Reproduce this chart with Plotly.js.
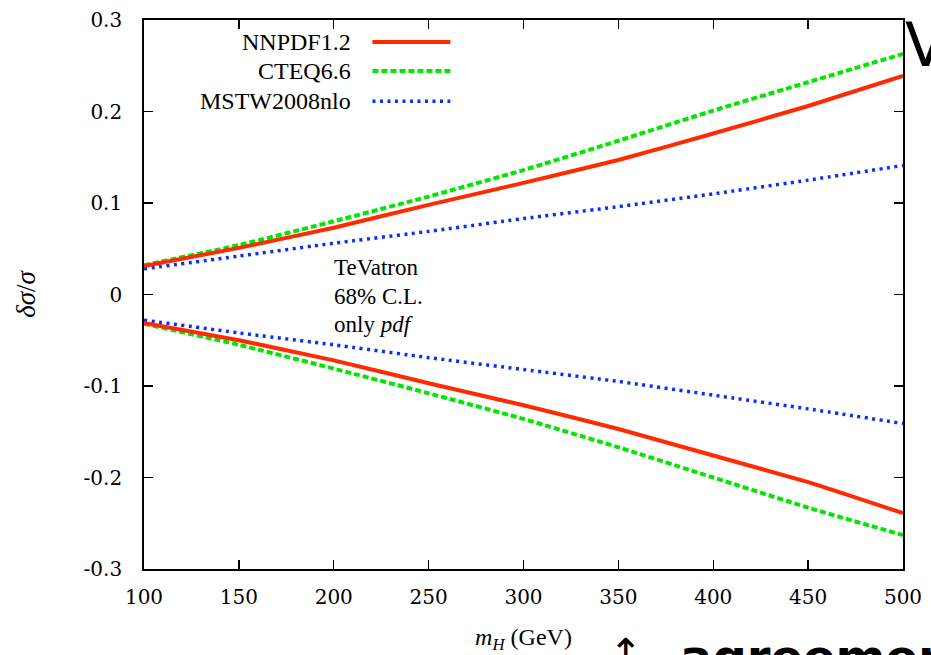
<!DOCTYPE html>
<html><head><meta charset="utf-8">
<script src="https://cdn.plot.ly/plotly-3.0.1.min.js"></script>
<style>html,body{margin:0;padding:0;background:#fff}</style>
</head><body><div id="chart" style="width:931px;height:655px"></div>
<script>
// Higgs mass (GeV)
const massH = [100, 150, 200, 250, 300, 350, 400, 450, 500];
// relative pdf uncertainty, upper and lower edges
const nnpdfUpper = [0.031, 0.051, 0.073, 0.098, 0.122, 0.147, 0.176, 0.206, 0.239];
const nnpdfLower = [-0.031, -0.050, -0.072, -0.097, -0.121, -0.147, -0.176, -0.205, -0.239];
const cteqUpper = [0.032, 0.054, 0.080, 0.107, 0.136, 0.168, 0.201, 0.232, 0.263];
const cteqLower = [-0.032, -0.055, -0.081, -0.108, -0.136, -0.167, -0.200, -0.233, -0.263];
const mstwUpper = [0.028, 0.042, 0.056, 0.069, 0.083, 0.096, 0.110, 0.125, 0.141];
const mstwLower = [-0.028, -0.042, -0.055, -0.069, -0.082, -0.095, -0.110, -0.125, -0.141];
const seriesNames = ['NNPDF1.2', 'CTEQ6.6', 'MSTW2008nlo'];
const xTickVals = [100, 150, 200, 250, 300, 350, 400, 450, 500];
const xTickText = ['100', '150', '200', '250', '300', '350', '400', '450', '500'];
const yTickVals = [-0.3, -0.2, -0.1, 0, 0.1, 0.2, 0.3];
const yTickText = ['-0.3', '-0.2', '-0.1', '0', '0.1', '0.2', '0.3'];

const SERIF = 'Liberation Serif';
const TICKSERIF = 'DejaVu Serif';
const styles = [
  {color: '#ff2a00', width: 4, dash: 'solid'},
  {color: '#00e600', width: 4, dash: '6px,3px'},
  {color: '#0a2dff', width: 3.5, dash: '3px,4.5px'}
];
const bands = [[nnpdfUpper, nnpdfLower], [cteqUpper, cteqLower], [mstwUpper, mstwLower]];
const data = [];
// draw blue, green, then red on top as in the reference
[2, 1, 0].forEach(i => {
  bands[i].forEach(vals => {
    data.push({x: massH, y: vals, type: 'scatter', mode: 'lines', name: seriesNames[i],
      line: {color: styles[i].color, width: styles[i].width, dash: styles[i].dash, shape: 'spline', smoothing: 0.4},
      showlegend: false, hoverinfo: 'skip'});
  });
});

const legendY = [0.960, 0.907, 0.852];
const annotations = [];
const shapes = [];
seriesNames.forEach((n, i) => {
  annotations.push({xref: 'paper', yref: 'paper', x: 0.2758, y: legendY[i], xanchor: 'right', yanchor: 'middle',
    text: n, showarrow: false, font: {family: SERIF, size: 24, color: '#000'}});
  shapes.push({type: 'line', xref: 'paper', yref: 'paper', x0: 0.301, x1: 0.4036, y0: legendY[i], y1: legendY[i],
    line: {color: styles[i].color, width: styles[i].width, dash: styles[i].dash}});
});
const noteLines = ['TeVatron', '68% C.L.', 'only <i>pdf</i>'];
const noteY = [0.550, 0.497, 0.445];
noteLines.forEach((t, i) => {
  annotations.push({xref: 'paper', yref: 'paper', x: 0.2475, y: noteY[i], xanchor: 'left', yanchor: 'middle',
    text: t, showarrow: false, font: {family: SERIF, size: 23, color: '#000'}});
});
// slide fragments cut at the image border
annotations.push({xref: 'paper', yref: 'paper', x: 1.0, y: 0.955, xanchor: 'left', yanchor: 'middle',
  text: 'V', showarrow: false, font: {family: 'DejaVu Sans', size: 60, color: '#000'}});
annotations.push({xref: 'paper', yref: 'paper', x: 0.635, y: -0.107, xanchor: 'center', yanchor: 'top',
  text: '↑', showarrow: false, font: {family: 'DejaVu Sans', size: 40, color: '#000'}});
annotations.push({xref: 'paper', yref: 'paper', x: 0.704, y: -0.106, xanchor: 'left', yanchor: 'top',
  text: '<b>agreement</b>', showarrow: false, font: {family: 'DejaVu Sans', size: 48, color: '#000'}});

const layout = {
  width: 931, height: 655,
  margin: {l: 144, r: 28, t: 20, b: 86},
  paper_bgcolor: '#fff', plot_bgcolor: '#fff',
  font: {family: SERIF, color: '#000'},
  showlegend: false,
  xaxis: {range: [100, 500], tickvals: xTickVals, ticktext: xTickText, ticks: 'inside', ticklen: 9,
    tickwidth: 1.3, tickcolor: '#000', mirror: 'ticks', showline: true, linecolor: '#000', linewidth: 1.8,
    showgrid: false, zeroline: false, ticklabelstandoff: 9,
    tickfont: {family: TICKSERIF, size: 20, color: '#000'},
    title: {text: '<i>m</i><sub><i>H</i></sub> (GeV)', font: {family: SERIF, size: 24, color: '#000'}, standoff: 20}},
  yaxis: {range: [-0.3, 0.3], tickvals: yTickVals, ticktext: yTickText, ticks: 'inside', ticklen: 9,
    tickwidth: 1.3, tickcolor: '#000', mirror: 'ticks', showline: true, linecolor: '#000', linewidth: 1.8,
    showgrid: false, zeroline: false, ticklabelstandoff: 16,
    tickfont: {family: TICKSERIF, size: 20, color: '#000'},
    title: {text: '<i>δσ</i>/<i>σ</i>', font: {family: SERIF, size: 27, color: '#000'}, standoff: 40}},
  annotations: annotations,
  shapes: shapes
};
Plotly.newPlot('chart', data, layout, {displayModeBar: false, staticPlot: true});
</script></body></html>
